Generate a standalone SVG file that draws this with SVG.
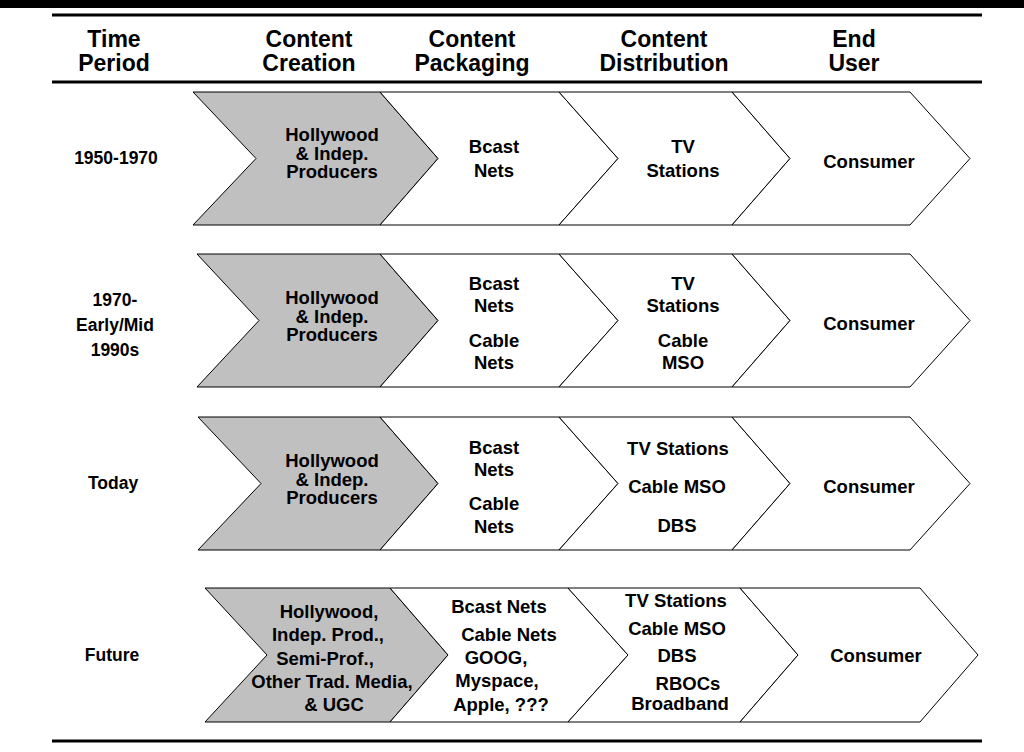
<svg xmlns="http://www.w3.org/2000/svg" width="1024" height="752" viewBox="0 0 1024 752">
  <style>
    text { font-family: "Liberation Sans", Arial, sans-serif; font-weight: bold; fill: #000; text-anchor: middle; }
    .hdr { font-size: 23px; }
    .lbl { font-size: 17.5px; }
    .txt { font-size: 18.5px; }
    .chev { fill: #fff; stroke: #000; stroke-width: 1; }
    .chev.src { fill: #c0c0c0; }
    .rule { stroke: #000; stroke-width: 3; }
  </style>

  <rect x="0" y="0" width="1024" height="8" fill="#000"/>

  <!-- table rules -->
  <g id="rules">
    <line class="rule" x1="52" y1="15" x2="982" y2="15"/>
    <line class="rule" x1="52" y1="82" x2="982" y2="82"/>
    <line class="rule" x1="52" y1="741" x2="982" y2="741"/>
  </g>

  <!-- column headings -->
  <g id="header">
    <text class="hdr" x="114" y="47">Time</text>
    <text class="hdr" x="114" y="71">Period</text>
    <text class="hdr" x="309" y="47">Content</text>
    <text class="hdr" x="309" y="71">Creation</text>
    <text class="hdr" x="472" y="47">Content</text>
    <text class="hdr" x="472" y="71">Packaging</text>
    <text class="hdr" x="664" y="47">Content</text>
    <text class="hdr" x="664" y="71">Distribution</text>
    <text class="hdr" x="854" y="47">End</text>
    <text class="hdr" x="854" y="71">User</text>
  </g>

  <!-- row 1: 1950-1970 -->
  <g id="row1-label"><text class="lbl" x="116" y="164">1950-1970</text></g>
  <g id="row1-creation">
    <polygon class="chev src" points="193,92 380,92 438,158.5 380,225 193,225 256,158.5"/>
    <text class="txt" x="332" y="140.5">Hollywood</text>
    <text class="txt" x="332" y="159.5">&amp; Indep.</text>
    <text class="txt" x="332" y="178">Producers</text>
  </g>
  <g id="row1-packaging">
    <polygon class="chev" points="380,92 559,92 618,158.5 559,225 380,225 438,158.5"/>
    <text class="txt" x="494" y="153">Bcast</text>
    <text class="txt" x="494" y="177">Nets</text>
  </g>
  <g id="row1-distribution">
    <polygon class="chev" points="559,92 732,92 790,158.5 732,225 559,225 618,158.5"/>
    <text class="txt" x="683" y="153">TV</text>
    <text class="txt" x="683" y="177">Stations</text>
  </g>
  <g id="row1-user">
    <polygon class="chev" points="732,92 910,92 970,158.5 910,225 732,225 790,158.5"/>
    <text class="txt" x="869" y="168">Consumer</text>
  </g>

  <!-- row 2: 1970 - early/mid 1990s -->
  <g id="row2-label">
    <text class="lbl" x="115" y="306">1970-</text>
    <text class="lbl" x="115" y="331">Early/Mid</text>
    <text class="lbl" x="115" y="356">1990s</text>
  </g>
  <g id="row2-creation">
    <polygon class="chev src" points="197,254 380,254 438,320.5 380,387 197,387 259,320.5"/>
    <text class="txt" x="332" y="303.5">Hollywood</text>
    <text class="txt" x="332" y="322.5">&amp; Indep.</text>
    <text class="txt" x="332" y="341">Producers</text>
  </g>
  <g id="row2-packaging">
    <polygon class="chev" points="380,254 559,254 618,320.5 559,387 380,387 438,320.5"/>
    <text class="txt" x="494" y="290">Bcast</text>
    <text class="txt" x="494" y="312">Nets</text>
    <text class="txt" x="494" y="347">Cable</text>
    <text class="txt" x="494" y="369">Nets</text>
  </g>
  <g id="row2-distribution">
    <polygon class="chev" points="559,254 732,254 790,320.5 732,387 559,387 618,320.5"/>
    <text class="txt" x="683" y="290">TV</text>
    <text class="txt" x="683" y="312">Stations</text>
    <text class="txt" x="683" y="347">Cable</text>
    <text class="txt" x="683" y="369">MSO</text>
  </g>
  <g id="row2-user">
    <polygon class="chev" points="732,254 910,254 970,320.5 910,387 732,387 790,320.5"/>
    <text class="txt" x="869" y="330">Consumer</text>
  </g>

  <!-- row 3: today -->
  <g id="row3-label"><text class="lbl" x="113" y="489">Today</text></g>
  <g id="row3-creation">
    <polygon class="chev src" points="198,417 380,417 438,483.5 380,550 198,550 261,483.5"/>
    <text class="txt" x="332" y="466.5">Hollywood</text>
    <text class="txt" x="332" y="485.5">&amp; Indep.</text>
    <text class="txt" x="332" y="504">Producers</text>
  </g>
  <g id="row3-packaging">
    <polygon class="chev" points="380,417 559,417 618,483.5 559,550 380,550 438,483.5"/>
    <text class="txt" x="494" y="454">Bcast</text>
    <text class="txt" x="494" y="476">Nets</text>
    <text class="txt" x="494" y="510">Cable</text>
    <text class="txt" x="494" y="533">Nets</text>
  </g>
  <g id="row3-distribution">
    <polygon class="chev" points="559,417 732,417 790,483.5 732,550 559,550 618,483.5"/>
    <text class="txt" x="678" y="455">TV Stations</text>
    <text class="txt" x="677" y="493">Cable MSO</text>
    <text class="txt" x="677" y="532">DBS</text>
  </g>
  <g id="row3-user">
    <polygon class="chev" points="732,417 910,417 970,483.5 910,550 732,550 790,483.5"/>
    <text class="txt" x="869" y="493">Consumer</text>
  </g>

  <!-- row 4: future -->
  <g id="row4-label"><text class="lbl" x="112" y="661">Future</text></g>
  <g id="row4-creation">
    <polygon class="chev src" points="205,588 390,588 448,655 390,722 205,722 267,655"/>
    <text class="txt" x="329" y="618">Hollywood,</text>
    <text class="txt" x="328" y="641">Indep. Prod.,</text>
    <text class="txt" x="325" y="665">Semi-Prof.,</text>
    <text class="txt" x="332" y="688">Other Trad. Media,</text>
    <text class="txt" x="334" y="711">&amp; UGC</text>
  </g>
  <g id="row4-packaging">
    <polygon class="chev" points="390,588 568,588 628,655 568,722 390,722 448,655"/>
    <text class="txt" x="499" y="613">Bcast Nets</text>
    <text class="txt" x="509" y="641">Cable Nets</text>
    <text class="txt" x="496" y="664">GOOG,</text>
    <text class="txt" x="497" y="687">Myspace,</text>
    <text class="txt" x="501" y="711">Apple, ???</text>
  </g>
  <g id="row4-distribution">
    <polygon class="chev" points="568,588 740,588 798,655 740,722 568,722 628,655"/>
    <text class="txt" x="676" y="607">TV Stations</text>
    <text class="txt" x="677" y="635">Cable MSO</text>
    <text class="txt" x="677" y="662">DBS</text>
    <text class="txt" x="688" y="690">RBOCs</text>
    <text class="txt" x="680" y="710">Broadband</text>
  </g>
  <g id="row4-user">
    <polygon class="chev" points="740,588 920,588 978,655 920,722 740,722 798,655"/>
    <text class="txt" x="876" y="662">Consumer</text>
  </g>
</svg>
